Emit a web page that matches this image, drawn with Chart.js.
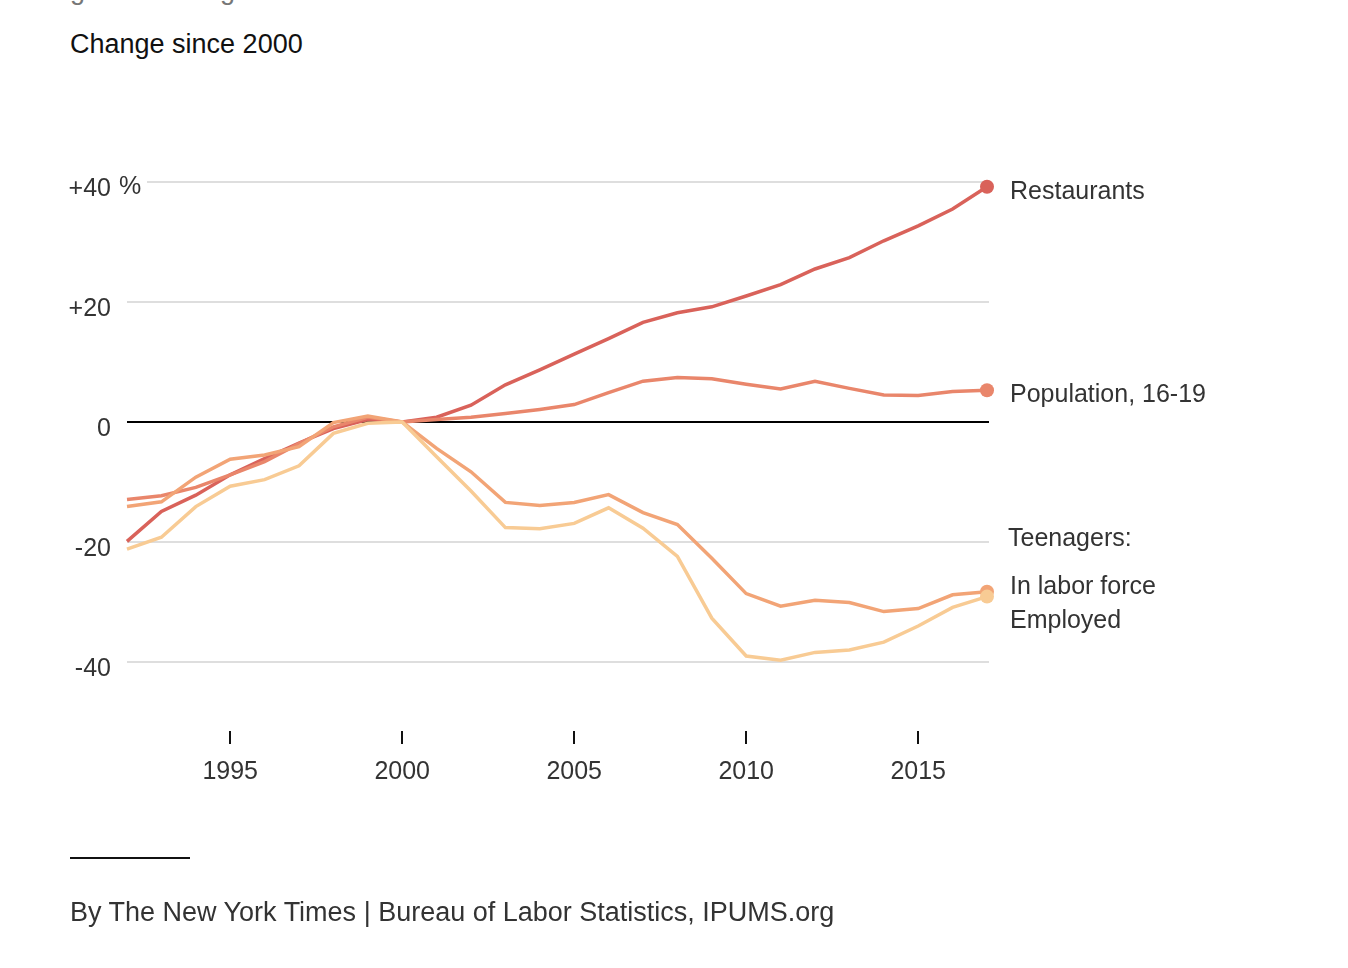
<!DOCTYPE html>
<html>
<head>
<meta charset="utf-8">
<script src="https://cdn.jsdelivr.net/npm/chart.js@4"></script>
<style>
  html, body { margin:0; padding:0; background:#fff; }
  body { width:1348px; height:968px; position:relative; overflow:hidden; font-family:"Liberation Sans", Arial, sans-serif; }
  #wrap { position:absolute; left:0; top:0; width:1348px; height:968px; }
  .t { position:absolute; white-space:nowrap; line-height:30px; }
</style>
</head>
<body>
<div class="t" style="left:70px; top:-25px; font-size:27px; color:#777;">generation ago.</div>
<div class="t" style="left:70px; top:29px; font-size:27px; color:#111;">Change since 2000</div>
<div id="wrap"><canvas id="c"></canvas></div>
<div class="t" style="left:1008px; top:522px; font-size:25px; color:#333;">Teenagers:</div>
<div class="t" style="left:1010px; top:570px; font-size:25px; color:#333;">In labor force</div>
<div class="t" style="left:1010px; top:604px; font-size:25px; color:#333;">Employed</div>
<div style="position:absolute; left:70px; top:857px; width:120px; height:2px; background:#111;"></div>
<div class="t" style="left:70px; top:897px; font-size:27px; color:#333;">By The New York Times | Bureau of Labor Statistics, IPUMS.org</div>
<script>
const years = [1992,1993,1994,1995,1996,1997,1998,1999,2000,2001,2002,2003,2004,2005,2006,2007,2008,2009,2010,2011,2012,2013,2014,2015,2016,2017];
const restaurants = [-19.9,-14.9,-12.2,-8.8,-6.1,-3.5,-1.1,0.4,0,0.8,2.8,6.2,8.7,11.3,13.9,16.6,18.2,19.2,21.0,22.9,25.5,27.4,30.2,32.7,35.5,39.2];
const population = [-12.9,-12.3,-10.9,-8.8,-6.6,-3.6,-0.8,0.8,0,0.4,0.8,1.4,2.1,2.9,4.9,6.8,7.4,7.2,6.3,5.5,6.8,5.6,4.5,4.4,5.1,5.3];
const laborForce = [-14.1,-13.3,-9.2,-6.2,-5.5,-4.1,-0.1,1.0,0,-4.4,-8.3,-13.4,-13.9,-13.4,-12.1,-15.1,-17.1,-22.7,-28.6,-30.7,-29.7,-30.1,-31.6,-31.1,-28.8,-28.3];
const employed = [-21.2,-19.2,-14.1,-10.7,-9.6,-7.3,-1.9,-0.2,0,-5.8,-11.5,-17.6,-17.8,-16.9,-14.3,-17.7,-22.4,-32.7,-39.0,-39.7,-38.4,-38.0,-36.7,-34.0,-30.9,-29.1];
const xTicks = [1995,2000,2005,2010,2015];
const yTicks = [-40,-20,0,20,40];
const yTickLabels = {"-40":"-40","-20":"-20","0":"0","20":"+20","40":"+40"};

const colors = {
  restaurants:'#d9625a',
  population:'#e9866b',
  labor:'#f2a476',
  employed:'#f8cb94'
};

function pts(arr){ return years.map((y,i)=>({x:y, y:arr[i]})); }
function lastDot(ctx){ return ctx.dataIndex === years.length-1 ? 7 : 0; }

const gridPlugin = {
  id:'grid',
  beforeDatasetsDraw(chart){
    const {ctx, chartArea, scales} = chart;
    ctx.save();
    yTicks.forEach(v=>{
      const y = Math.round(scales.y.getPixelForValue(v));
      ctx.beginPath();
      ctx.lineWidth = 2;
      ctx.strokeStyle = v===0 ? '#000' : '#dedede';
      const x0 = v===40 ? 147 : chartArea.left;
      ctx.moveTo(x0, y);
      ctx.lineTo(chartArea.right + 2, y);
      ctx.stroke();
    });
    ctx.restore();
  },
  afterDraw(chart){
    const {ctx, chartArea, scales} = chart;
    ctx.save();
    ctx.font = '25px "Liberation Sans", Arial, sans-serif';
    ctx.fillStyle = '#333';
    ctx.textBaseline = 'middle';
    ctx.textAlign = 'left';
    ctx.fillText('%', 119, scales.y.getPixelForValue(40) + 5);
    const lbl = [[restaurants,'Restaurants'],[population,'Population, 16-19']];
    lbl.forEach(([arr,txt])=>{
      const y = scales.y.getPixelForValue(arr[arr.length-1]);
      ctx.fillText(txt, chartArea.right + 23, y + 5);
    });
    ctx.restore();
  }
};

const ds = (label, arr, color, order) => ({
  label, data: pts(arr), borderColor: color, backgroundColor: color,
  borderWidth: 3.5, pointRadius: lastDot, pointHoverRadius: lastDot,
  pointBorderWidth: 0, tension: 0, clip: false, order
});

new Chart(document.getElementById('c'), {
  type:'line',
  data:{
    datasets:[
      ds('Employed', employed, colors.employed, 0),
      ds('In labor force', laborForce, colors.labor, 1),
      ds('Population, 16-19', population, colors.population, 2),
      ds('Restaurants', restaurants, colors.restaurants, 3)
    ]
  },
  options:{
    responsive:true,
    maintainAspectRatio:false,
    animation:false,
    events:[],
    layout:{ padding:{ top:152, left:0, right:361, bottom:0 } },
    plugins:{ legend:{display:false}, tooltip:{enabled:false} },
    scales:{
      x:{
        type:'linear', min:1992, max:2017,
        afterBuildTicks(s){ s.ticks = xTicks.map(v=>({value:v})); },
        afterFit(s){ s.height = 237; },
        border:{ display:false },
        grid:{ drawOnChartArea:false, drawTicks:true, tickLength:13, color:'#111', lineWidth:2 },
        ticks:{ color:'#333', font:{ size:25, family:'"Liberation Sans", Arial, sans-serif' }, padding:13, maxRotation:0, callback:v=>String(v) }
      },
      y:{
        type:'linear', min:-51.5, max:45,
        afterBuildTicks(s){ s.ticks = yTicks.map(v=>({value:v})); },
        afterFit(s){ s.width = 127; },
        border:{ display:false },
        grid:{ display:false, drawTicks:false },
        ticks:{ color:'#333', font:{ size:25, family:'"Liberation Sans", Arial, sans-serif' }, padding:16, labelOffset:7, callback:v=>yTickLabels[String(v)] }
      }
    }
  },
  plugins:[gridPlugin]
});
</script>
</body>
</html>
